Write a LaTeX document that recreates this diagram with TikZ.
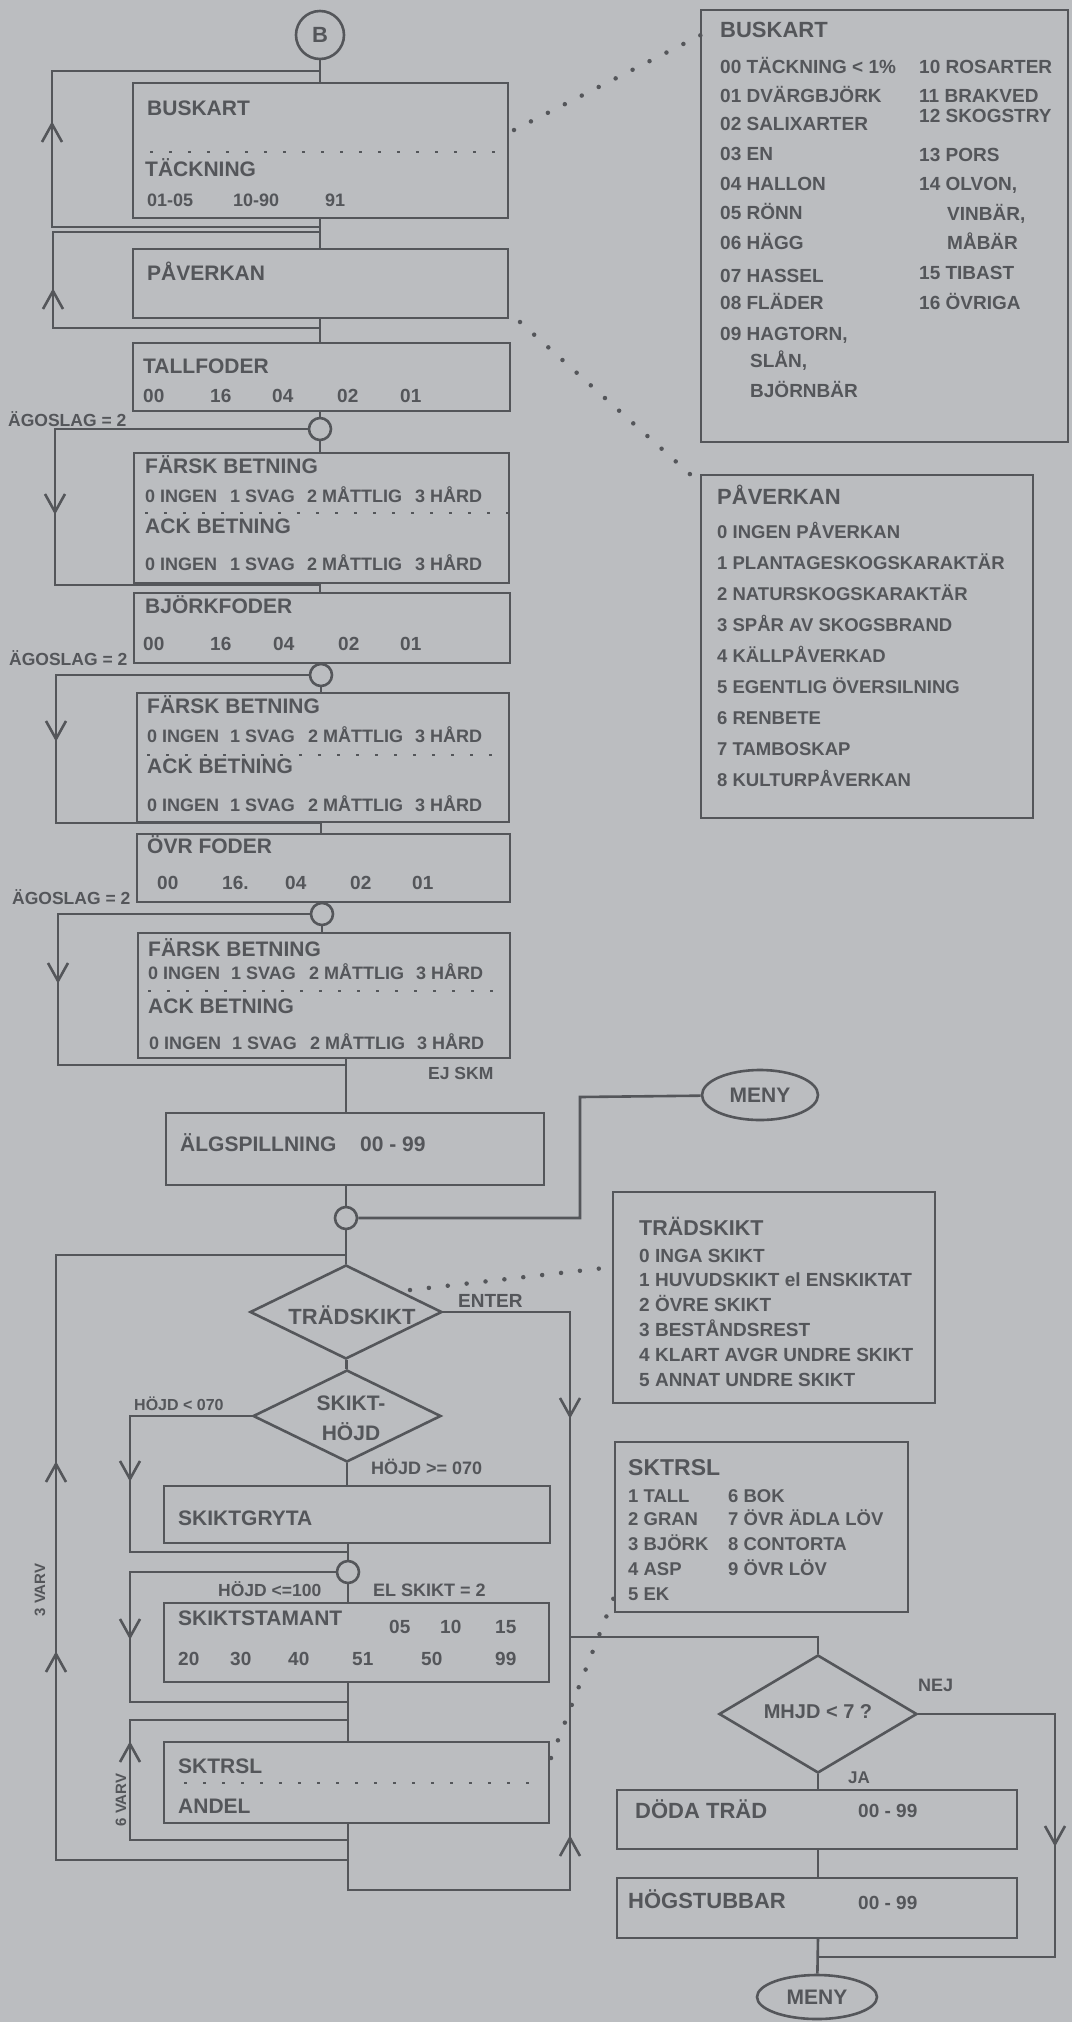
\documentclass[tikz,border=0pt]{standalone}
\usepackage{fontspec}
\setmainfont{Liberation Sans}
\usetikzlibrary{shapes.geometric,fit}
\definecolor{bg}{RGB}{187,189,192}
\definecolor{ink}{RGB}{84,86,90}
\begin{document}
\begin{tikzpicture}[x=1pt,y=-1pt,
  ln/.style={draw=ink, line width=2.6pt},
  box/.style={draw=ink, line width=2.6pt, inner sep=0pt, outer sep=0pt, rectangle},
  circ/.style={draw=ink, line width=2.6pt, circle, inner sep=0pt},
  dia/.style={draw=ink, line width=2.6pt, diamond, inner sep=0pt},
  ell/.style={draw=ink, line width=2.6pt, ellipse, inner sep=0pt},
  lb/.style={text=ink, inner sep=0pt, anchor=base west, font=\bfseries\fontsize{#1}{#1}\selectfont},
  lc/.style={text=ink, inner sep=0pt, font=\bfseries\fontsize{#1}{#1}\selectfont},
  dots/.style={draw=ink, line width=4.5pt, line cap=round, dash pattern=on 0pt off 19pt},
  sep/.style={draw=ink, line width=2.6pt, dash pattern=on 3pt off 16pt},
  upc/.pic={\draw[ink, line width=2.6pt] (-10,9) -- (0,-9) -- (10,9);},
  dnc/.pic={\draw[ink, line width=2.6pt] (-10,-9) -- (0,9) -- (10,-9);}
]
\fill[bg] (0,0) rectangle (1072,2022);
\useasboundingbox (0,0) rectangle (1072,2022);

% ---------- boxes ----------
\node[box, fit={(133,83) (508,218)}] (bus) {};
\node[box, fit={(133,249) (508,318)}] (pav) {};
\node[box, fit={(133,343) (510,411)}] (tall) {};
\node[box, fit={(134,453) (509,583)}] (far1) {};
\node[box, fit={(134,593) (510,663)}] (bjo) {};
\node[box, fit={(137,693) (509,822)}] (far2) {};
\node[box, fit={(137,834) (510,902)}] (ovr) {};
\node[box, fit={(138,933) (510,1058)}] (far3) {};
\node[box, fit={(166,1113) (544,1185)}] (alg) {};
\node[box, fit={(164,1486) (550,1543)}] (grt) {};
\node[box, fit={(164,1603) (549,1682)}] (stam) {};
\node[box, fit={(164,1742) (549,1823)}] (sktr) {};
\node[box, fit={(617,1790) (1017,1849)}] (doda) {};
\node[box, fit={(617,1878) (1017,1938)}] (hog) {};
\node[box, fit={(701,10) (1068,442)}] (lbus) {};
\node[box, fit={(701,475) (1033,818)}] (lpav) {};
\node[box, fit={(613,1192) (935,1403)}] (ltrad) {};
\node[box, fit={(615,1442) (908,1612)}] (lsktr) {};

% ---------- circles, diamonds, ellipses ----------
\node[circ, minimum size=48pt, lc=22] (B) at (320,35) {B};
\node[circ, minimum size=22pt] (c1) at (320,429) {};
\node[circ, minimum size=22pt] (c2) at (321,675) {};
\node[circ, minimum size=22pt] (c3) at (322,914) {};
\node[circ, minimum size=22pt] (c4) at (346,1218) {};
\node[circ, minimum size=22pt] (c5) at (348,1572) {};
\node[dia, minimum width=192pt, minimum height=94pt] (trad) at (346,1312) {};
\node[dia, minimum width=188pt, minimum height=92pt] (skk) at (347,1416) {};
\node[dia, minimum width=198pt, minimum height=118pt] (mhjd) at (818,1714) {};
\node[ell, minimum width=116pt, minimum height=50pt, lc=21] (meny1) at (760,1095) {MENY};
\node[ell, minimum width=120pt, minimum height=44pt, lc=21] (meny2) at (817,1997) {MENY};

% ---------- connectors (upper part) ----------
\coordinate (j0) at (320,71);
\coordinate (j1) at (320,227);
\coordinate (j2) at (320,232);
\coordinate (j3) at (320,328);
\draw[ln] (B) -- (B |- bus.north);
\draw[ln] (B |- bus.south) -- (B |- pav.north);
\draw[ln] (B |- pav.south) -- (B |- tall.north);
\draw[ln] (j1) -- (52,227) -- (52,71) -- (j0);
\draw[ln] (j3) -- (53,328) -- (53,232) -- (j2);
\pic at (52,133) {upc};
\pic at (53,300) {upc};

\draw[ln] (B |- tall.south) -- (c1);
\draw[ln] (c1) -- (c1 |- far1.north);
\draw[ln] (c1.west) -- (55,429) -- (55,585) -- (320,585);
\pic at (55,503) {dnc};
\draw[ln] (c1 |- far1.south) -- (c1 |- bjo.north);
\draw[ln] (c1 |- bjo.south) -- (c2);
\draw[ln] (c2) -- (c2 |- far2.north);
\draw[ln] (c2.west) -- (56,675) -- (56,823) -- (321,823);
\pic at (56,730) {dnc};
\draw[ln] (c2 |- far2.south) -- (c2 |- ovr.north);
\draw[ln] (c2 |- ovr.south) -- (c3);
\draw[ln] (c3) -- (c3 |- far3.north);
\draw[ln] (c3.west) -- (58,914) -- (58,1065) -- (346,1065);
\pic at (58,972) {dnc};
\draw[ln] (c4 |- far3.south) -- (c4 |- alg.north);
\draw[ln] (c4 |- alg.south) -- (c4);
\draw[ln] (c4) -- (trad);
\draw[ln] (c4.east) -- (580,1218) -- (580,1097) -- (meny1);

% ---------- connectors (lower part) ----------
\coordinate (j4) at (346,1255);
\coordinate (j9) at (348,1860);
\coordinate (r1) at (570,1637);
\draw[ln] (j9) -- (56,1860) -- (56,1255) -- (j4);
\pic at (56,1473) {upc};
\pic at (56,1663) {upc};
\draw[ln] (trad) -- (skk);
\draw[ln] (trad.east) -- (trad.east -| r1) -- (r1);
\pic at (570,1407) {dnc};
\draw[ln] (r1) -- (r1 -| mhjd) -- (mhjd);
\draw[ln] (c5 |- sktr.south) -- ++(0,67) -| (r1);
\pic at (570,1847) {upc};

\draw[ln] (skk.west) -- (130,1416) -- (130,1552) -- (348,1552);
\pic at (130,1470) {dnc};
\draw[ln] (skk) -- (skk |- grt.north);
\draw[ln] (c5 |- grt.south) -- (c5);
\draw[ln] (c5.west) -- (130,1572) -- (130,1702) -- (348,1702);
\pic at (130,1628) {dnc};
\draw[ln] (c5) -- (c5 |- stam.north);
\draw[ln] (c5 |- stam.south) -- (c5 |- sktr.north);
\draw[ln] (348,1840) -- (130,1840) -- (130,1720) -- (348,1720);
\pic at (130,1753) {upc};

\draw[ln] (mhjd) -- (mhjd |- doda.north);
\draw[ln] (mhjd.east) -- (1055,1714) -- (1055,1957) -- (818,1957);
\pic at (1055,1835) {dnc};
\draw[ln] (doda.south -| mhjd) -- (hog.north -| mhjd);
\draw[ln] (hog.south -| mhjd) -- (meny2);

% ---------- dotted connectors ----------
\coordinate (d1a) at (514,130); \coordinate (d1b) at (701,35);
\coordinate (d2a) at (520,322); \coordinate (d2b) at (701,484);
\coordinate (d3a) at (410,1290); \coordinate (d3b) at (613,1267);
\coordinate (d4a) at (551,1758); \coordinate (d4b) at (614,1597);
\draw[dots] (d1a) -- (d1b);
\draw[dots] (d2a) -- (d2b);
\draw[dots] (d3a) -- (d3b);
\draw[dots] (d4a) -- (d4b);

\draw[sep] (150,152) -- (508,152);
\draw[sep] (145,513) -- (509,513);
\draw[sep] (147,755) -- (509,755);
\draw[sep] (148,991) -- (510,991);
\draw[sep] (184,1783) -- (542,1783);

% ---------- texts in the flow ----------
\node[lb=21] (tBus) at (147,115) {BUSKART};
\node[lb=21] (tTack) at (145,176) {TÄCKNING};
\node[lb=18] (tTa1) at (147,206) {01-05};
\node[lb=18] (tTa2) at (233,206) {10-90};
\node[lb=18] (tTa3) at (325,206) {91};
\node[lb=21] (tPav) at (147,280) {PÅVERKAN};

\node[lb=21] (tTall) at (143,373) {TALLFODER};
\node[lb=19] (tTn1) at (143,402) {00};
\node[lb=19] (tTn2) at (210,402) {16};
\node[lb=19] (tTn3) at (272,402) {04};
\node[lb=19] (tTn4) at (337,402) {02};
\node[lb=19] (tTn5) at (400,402) {01};
\node[lb=17.5] (tAg1) at (8,426) {ÄGOSLAG = 2};

\node[lb=21] (tF1a) at (145,473) {FÄRSK BETNING};
\node[lb=18] (tF1b) at (145,502) {0 INGEN};
\node[lb=18] (tF1c) at (230,502) {1 SVAG};
\node[lb=18] (tF1d) at (307,502) {2 MÅTTLIG};
\node[lb=18] (tF1e) at (415,502) {3 HÅRD};
\node[lb=21] (tF1f) at (145,533) {ACK BETNING};
\node[lb=18] (tF1g) at (145,570) {0 INGEN};
\node[lb=18] (tF1h) at (230,570) {1 SVAG};
\node[lb=18] (tF1i) at (307,570) {2 MÅTTLIG};
\node[lb=18] (tF1j) at (415,570) {3 HÅRD};

\node[lb=21] (tBjo) at (145,613) {BJÖRKFODER};
\node[lb=19] (tBn1) at (143,650) {00};
\node[lb=19] (tBn2) at (210,650) {16};
\node[lb=19] (tBn3) at (273,650) {04};
\node[lb=19] (tBn4) at (338,650) {02};
\node[lb=19] (tBn5) at (400,650) {01};
\node[lb=17.5] (tAg2) at (9,665) {ÄGOSLAG = 2};

\node[lb=21] (tF2a) at (147,713) {FÄRSK BETNING};
\node[lb=18] (tF2b) at (147,742) {0 INGEN};
\node[lb=18] (tF2c) at (230,742) {1 SVAG};
\node[lb=18] (tF2d) at (308,742) {2 MÅTTLIG};
\node[lb=18] (tF2e) at (415,742) {3 HÅRD};
\node[lb=21] (tF2f) at (147,773) {ACK BETNING};
\node[lb=18] (tF2g) at (147,811) {0 INGEN};
\node[lb=18] (tF2h) at (230,811) {1 SVAG};
\node[lb=18] (tF2i) at (308,811) {2 MÅTTLIG};
\node[lb=18] (tF2j) at (415,811) {3 HÅRD};

\node[lb=21] (tOvr) at (147,853) {ÖVR FODER};
\node[lb=19] (tOn1) at (157,889) {00};
\node[lb=19] (tOn2) at (222,889) {16.};
\node[lb=19] (tOn3) at (285,889) {04};
\node[lb=19] (tOn4) at (350,889) {02};
\node[lb=19] (tOn5) at (412,889) {01};
\node[lb=17.5] (tAg3) at (12,904) {ÄGOSLAG = 2};

\node[lb=21] (tF3a) at (148,956) {FÄRSK BETNING};
\node[lb=18] (tF3b) at (148,979) {0 INGEN};
\node[lb=18] (tF3c) at (231,979) {1 SVAG};
\node[lb=18] (tF3d) at (309,979) {2 MÅTTLIG};
\node[lb=18] (tF3e) at (416,979) {3 HÅRD};
\node[lb=21] (tF3f) at (148,1013) {ACK BETNING};
\node[lb=18] (tF3g) at (149,1049) {0 INGEN};
\node[lb=18] (tF3h) at (232,1049) {1 SVAG};
\node[lb=18] (tF3i) at (310,1049) {2 MÅTTLIG};
\node[lb=18] (tF3j) at (417,1049) {3 HÅRD};
\node[lb=17.5] (tEj) at (428,1079) {EJ SKM};

\node[lb=21] (tAlg) at (180,1151) {ÄLGSPILLNING};
\node[lb=21] (tAlgn) at (360,1151) {00 - 99};

\node[lc=22] (tTrad) at (352,1315) {TRÄDSKIKT};
\node[lb=19] (tEnter) at (458,1307) {ENTER};
\node[lc=21] (tSk1) at (351,1403) {SKIKT-};
\node[lc=21] (tSk2) at (351,1432) {HÖJD};
\node[lb=16] (tH1) at (134,1410) {HÖJD < 070};
\node[lb=18] (tH2) at (371,1474) {HÖJD >= 070};
\node[lb=21] (tGrt) at (178,1525) {SKIKTGRYTA};
\node[lb=17.5] (tH3) at (218,1596) {HÖJD <=100};
\node[lb=18] (tEl) at (373,1596) {EL SKIKT = 2};
\node[lb=21] (tStam) at (178,1625) {SKIKTSTAMANT};
\node[lb=19] (tSn1) at (389,1633) {05};
\node[lb=19] (tSn2) at (440,1633) {10};
\node[lb=19] (tSn3) at (495,1633) {15};
\node[lb=19] (tSn4) at (178,1665) {20};
\node[lb=19] (tSn5) at (230,1665) {30};
\node[lb=19] (tSn6) at (288,1665) {40};
\node[lb=19] (tSn7) at (352,1665) {51};
\node[lb=19] (tSn8) at (421,1665) {50};
\node[lb=19] (tSn9) at (495,1665) {99};
\node[lb=21] (tSktr) at (178,1773) {SKTRSL};
\node[lb=21] (tAndel) at (178,1813) {ANDEL};
\node[lc=15, rotate=90] (t3v) at (40,1590) {3 VARV};
\node[lc=15, rotate=90] (t6v) at (121,1800) {6 VARV};

\node[lc=20] (tMh) at (818,1712) {MHJD < 7 ?};
\node[lb=18] (tNej) at (918,1691) {NEJ};
\node[lb=17] (tJa) at (848,1783) {JA};
\node[lb=22] (tDoda) at (635,1818) {DÖDA TRÄD};
\node[lb=19] (tDn) at (858,1817) {00 - 99};
\node[lb=22] (tHog) at (628,1908) {HÖGSTUBBAR};
\node[lb=19] (tHn) at (858,1909) {00 - 99};

% ---------- legend: BUSKART ----------
\node[lb=22] (lb0) at (720,37) {BUSKART};
\node[lb=19] (lb1) at (720,73) {00 TÄCKNING < 1\%};
\node[lb=19] (lb2) at (720,102) {01 DVÄRGBJÖRK};
\node[lb=19] (lb3) at (720,130) {02 SALIXARTER};
\node[lb=19] (lb4) at (720,160) {03 EN};
\node[lb=19] (lb5) at (720,190) {04 HALLON};
\node[lb=19] (lb6) at (720,219) {05 RÖNN};
\node[lb=19] (lb7) at (720,249) {06 HÄGG};
\node[lb=19] (lb8) at (720,282) {07 HASSEL};
\node[lb=19] (lb9) at (720,309) {08 FLÄDER};
\node[lb=19] (lb10) at (720,340) {09 HAGTORN,};
\node[lb=19] (lb11) at (750,367) {SLÅN,};
\node[lb=19] (lb12) at (750,397) {BJÖRNBÄR};
\node[lb=19] (lb13) at (919,73) {10 ROSARTER};
\node[lb=19] (lb14) at (919,102) {11 BRAKVED};
\node[lb=19] (lb15) at (919,122) {12 SKOGSTRY};
\node[lb=19] (lb16) at (919,161) {13 PORS};
\node[lb=19] (lb17) at (919,190) {14 OLVON,};
\node[lb=19] (lb18) at (947,220) {VINBÄR,};
\node[lb=19] (lb19) at (947,249) {MÅBÄR};
\node[lb=19] (lb20) at (919,279) {15 TIBAST};
\node[lb=19] (lb21) at (919,309) {16 ÖVRIGA};

% ---------- legend: PÅVERKAN ----------
\node[lb=22] (lp0) at (717,504) {PÅVERKAN};
\node[lb=18.5] (lp1) at (717,538) {0 INGEN PÅVERKAN};
\node[lb=18.5] (lp2) at (717,569) {1 PLANTAGESKOGSKARAKTÄR};
\node[lb=18.5] (lp3) at (717,600) {2 NATURSKOGSKARAKTÄR};
\node[lb=18.5] (lp4) at (717,631) {3 SPÅR AV SKOGSBRAND};
\node[lb=18.5] (lp5) at (717,662) {4 KÄLLPÅVERKAD};
\node[lb=18.5] (lp6) at (717,693) {5 EGENTLIG ÖVERSILNING};
\node[lb=18.5] (lp7) at (717,724) {6 RENBETE};
\node[lb=18.5] (lp8) at (717,755) {7 TAMBOSKAP};
\node[lb=18.5] (lp9) at (717,786) {8 KULTURPÅVERKAN};

% ---------- legend: TRÄDSKIKT ----------
\node[lb=21.5] (lt0) at (639,1235) {TRÄDSKIKT};
\node[lb=19] (lt1) at (639,1262) {0 INGA SKIKT};
\node[lb=19] (lt2) at (639,1286) {1 HUVUDSKIKT el ENSKIKTAT};
\node[lb=19] (lt3) at (639,1311) {2 ÖVRE SKIKT};
\node[lb=19] (lt4) at (639,1336) {3 BESTÅNDSREST};
\node[lb=19] (lt5) at (639,1361) {4 KLART AVGR UNDRE SKIKT};
\node[lb=19] (lt6) at (639,1386) {5 ANNAT UNDRE SKIKT};

% ---------- legend: SKTRSL ----------
\node[lb=23] (ls0) at (628,1475) {SKTRSL};
\node[lb=18.5] (ls1) at (628,1502) {1 TALL};
\node[lb=18.5] (ls2) at (628,1525) {2 GRAN};
\node[lb=18.5] (ls3) at (628,1550) {3 BJÖRK};
\node[lb=18.5] (ls4) at (628,1575) {4 ASP};
\node[lb=18.5] (ls5) at (628,1600) {5 EK};
\node[lb=18.5] (ls6) at (728,1502) {6 BOK};
\node[lb=18.5] (ls7) at (728,1525) {7 ÖVR ÄDLA LÖV};
\node[lb=18.5] (ls8) at (728,1550) {8 CONTORTA};
\node[lb=18.5] (ls9) at (728,1575) {9 ÖVR LÖV};
\end{tikzpicture}
\end{document}
